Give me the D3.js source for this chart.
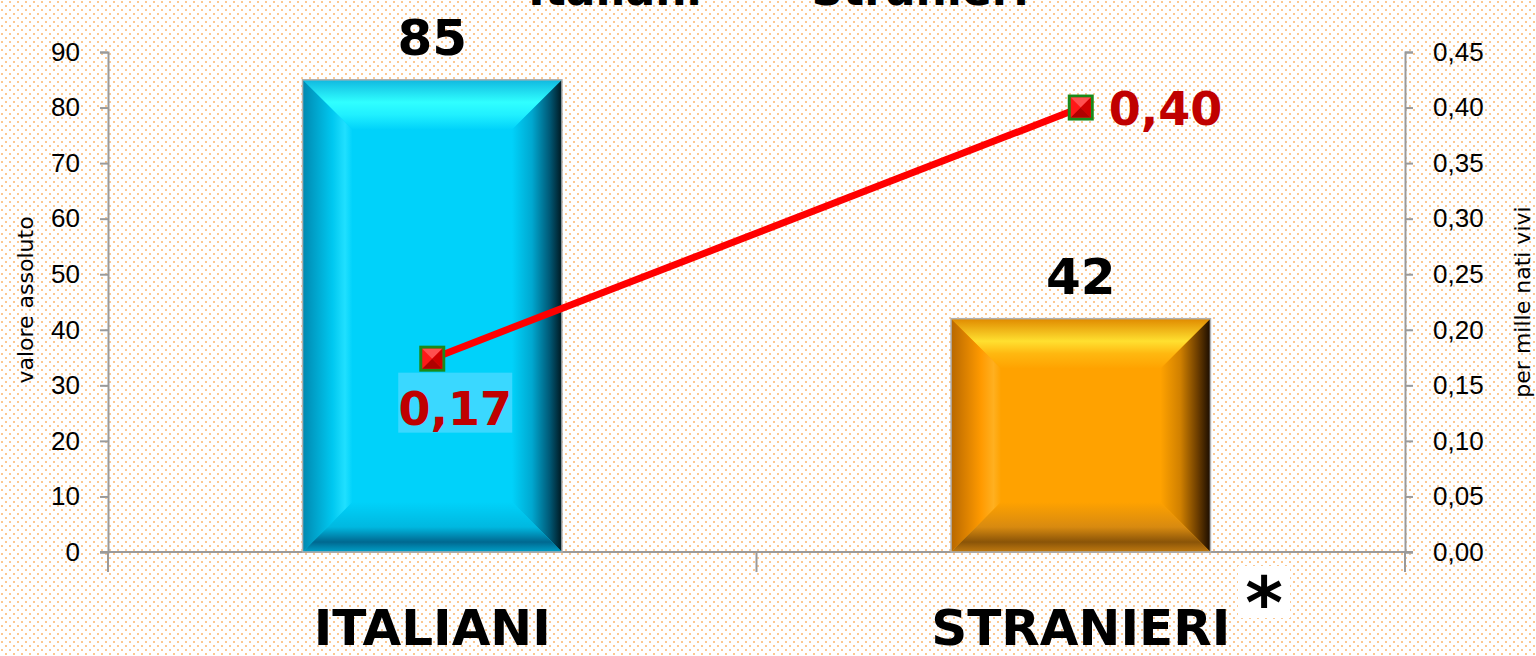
<!DOCTYPE html>
<html><head><meta charset="utf-8">
<script src="https://cdn.jsdelivr.net/npm/d3@7/dist/d3.min.js"></script>
<style>html,body{margin:0;padding:0;overflow:hidden;background:#fff}</style>
</head><body>
<svg id="c" width="1536" height="656"></svg>
<script>
const categories = ["ITALIANI", "STRANIERI"];
const absoluteValues = [85, 42];
const ratePerThousand = [0.174, 0.40];
const leftTicks = [0,10,20,30,40,50,60,70,80,90];
const rightTicks = [0,0.05,0.10,0.15,0.20,0.25,0.30,0.35,0.40,0.45];
const titleWords = ["Italiani", "Stranieri"];
const leftAxisTitle = "valore assoluto";
const rightAxisTitle = "per mille nati vivi";

const svg = d3.select("#c");
const W = 1536, H = 656;
const L = 108, R = 1405, T = 52, B = 552;
const it = d3.formatLocale({decimal: ",", thousands: ".", grouping: [3], currency: ["€",""]});
const f2 = it.format(".2f");

const defs = svg.append("defs");
const pat = defs.append("pattern").attr("id","dots").attr("width",8).attr("height",8).attr("patternUnits","userSpaceOnUse");
pat.append("rect").attr("width",8).attr("height",8).attr("fill","#fff");
pat.append("rect").attr("x",1).attr("y",1).attr("width",2).attr("height",2).attr("fill","#fcc891");
pat.append("rect").attr("x",5).attr("y",5).attr("width",2).attr("height",2).attr("fill","#fcc891");
svg.append("rect").attr("width",W).attr("height",H).attr("fill","url(#dots)");

function grad(id, dir, stops){
  const g = defs.append("linearGradient").attr("id",id);
  if(dir==="v"){g.attr("x1",0).attr("y1",0).attr("x2",0).attr("y2",1);} else {g.attr("x1",0).attr("y1",0).attr("x2",1).attr("y2",0);}
  stops.forEach(s=>g.append("stop").attr("offset",s[0]).attr("stop-color",s[1]));
}
const pal = [
 {c:"#00d2fa", top:[[0,"#10b8e0"],[0.45,"#30ffff"],[0.7,"#20f0ff"],[1,"#00d2fa"]],
  left:[[0,"#0088b0"],[0.6,"#00c8f0"],[0.85,"#20e0ff"],[1,"#00d2fa"]],
  right:[[0,"#00d2fa"],[0.4,"#00a8d0"],[0.75,"#005a78"],[1,"#001820"]],
  bottom:[[0,"#00d2fa"],[0.5,"#00b8e0"],[0.8,"#006890"],[1,"#00a0c8"]]},
 {c:"#ffa200", top:[[0,"#e08a00"],[0.45,"#ffe030"],[0.7,"#ffb810"],[1,"#ffa200"]],
  left:[[0,"#b86800"],[0.6,"#ff9a00"],[0.85,"#ffb020"],[1,"#ffa200"]],
  right:[[0,"#ffa200"],[0.4,"#d08000"],[0.75,"#6a3c00"],[1,"#1a0c00"]],
  bottom:[[0,"#ffa200"],[0.5,"#d88a10"],[0.8,"#8a5408"],[1,"#c07a10"]]}
];
pal.forEach((p,i)=>{
  grad("t"+i,"v",p.top); grad("l"+i,"h",p.left); grad("r"+i,"h",p.right); grad("b"+i,"v",p.bottom);
});

const x = d3.scaleBand().domain(categories).range([L,R]).paddingInner(0.6).paddingOuter(0.3);
const yL = d3.scaleLinear().domain([0,90]).range([B,T]);
const yR = d3.scaleLinear().domain([0,0.45]).range([B,T]);

// axes
const axL = svg.append("g").attr("transform",`translate(${L},0)`)
  .call(d3.axisLeft(yL).tickValues(leftTicks).tickSize(8).tickPadding(20).tickFormat(d3.format("d")));
const axR = svg.append("g").attr("transform",`translate(${R},0)`)
  .call(d3.axisRight(yR).tickValues(rightTicks).tickSize(8).tickPadding(20).tickFormat(f2));
[axL,axR].forEach(a=>{
  a.select(".domain").attr("stroke","#9a9a9a").attr("stroke-width",2);
  a.selectAll(".tick line").attr("stroke","#9a9a9a").attr("stroke-width",2);
  a.selectAll(".tick text").attr("font-family","Liberation Sans, Arial, sans-serif").attr("font-size",26).attr("fill","#000");
});
// x axis baseline + ticks at band boundaries
const step = x.step();
const boundaries = [L].concat(categories.map(c=>x(c)+x.bandwidth()/2+step/2));
svg.append("line").attr("x1",L-8).attr("x2",R+8).attr("y1",yL(0)).attr("y2",yL(0)).attr("stroke","#9a9a9a").attr("stroke-width",2);
svg.selectAll(".xt").data(boundaries).join("line").attr("x1",d=>d).attr("x2",d=>d).attr("y1",yL(0)).attr("y2",yL(0)+20)
  .attr("stroke","#9a9a9a").attr("stroke-width",2);

// bars
categories.forEach((c,i)=>{
  const x0 = x(c), w = x.bandwidth(), y0 = yL(absoluteValues[i]), y1 = yL(0);
  const bx = 50, by = 50;
  const g = svg.append("g");
  g.append("rect").attr("x",x0).attr("y",y0).attr("width",w).attr("height",y1-y0).attr("fill",pal[i].c);
  const P = (pts)=>pts.map(p=>p.join(",")).join(" ");
  g.append("polygon").attr("points",P([[x0,y0],[x0+w,y0],[x0+w-bx,y0+by],[x0+bx,y0+by]])).attr("fill",`url(#t${i})`);
  g.append("polygon").attr("points",P([[x0,y0],[x0+bx,y0+by],[x0+bx,y1-by],[x0,y1]])).attr("fill",`url(#l${i})`);
  g.append("polygon").attr("points",P([[x0+w,y0],[x0+w,y1],[x0+w-bx,y1-by],[x0+w-bx,y0+by]])).attr("fill",`url(#r${i})`);
  g.append("polygon").attr("points",P([[x0,y1],[x0+bx,y1-by],[x0+w-bx,y1-by],[x0+w,y1]])).attr("fill",`url(#b${i})`);
  g.append("rect").attr("x",x0).attr("y",y0).attr("width",w).attr("height",y1-y0).attr("fill","none").attr("stroke","#b0b0b0").attr("stroke-width",1.5);
  svg.append("text").attr("x",x0+w/2).attr("y",y0-25).attr("text-anchor","middle")
    .attr("font-family","DejaVu Sans, sans-serif").attr("font-weight","bold").attr("font-size",50).attr("fill","#000")
    .text(absoluteValues[i]);
});

// line
const cx = c=>x(c)+x.bandwidth()/2;
const pts = categories.map((c,i)=>[cx(c), yR(ratePerThousand[i])]);
svg.append("path").attr("d",d3.line()(pts)).attr("stroke","#ff0000").attr("stroke-width",7).attr("fill","none");

// labels
const p0 = pts[0], p1 = pts[1];
svg.append("rect").attr("x",p0[0]-34).attr("y",p0[1]+14).attr("width",114).attr("height",60).attr("fill","#40d8ff").attr("opacity",0.9);
svg.append("text").attr("x",p0[0]+23).attr("y",p0[1]+66).attr("text-anchor","middle")
  .attr("font-family","DejaVu Sans, sans-serif").attr("font-weight","bold").attr("font-size",46).attr("fill","#c00000")
  .text(f2(ratePerThousand[0]));
svg.append("text").attr("x",p1[0]+28).attr("y",p1[1]+17).attr("text-anchor","start")
  .attr("font-family","DejaVu Sans, sans-serif").attr("font-weight","bold").attr("font-size",46).attr("fill","#c00000")
  .text(f2(ratePerThousand[1]));

// markers
pts.forEach(p=>{
  const s = 26, h = s/2;
  const g = svg.append("g").attr("transform",`translate(${p[0]},${p[1]})`);
  g.append("rect").attr("x",-h).attr("y",-h).attr("width",s).attr("height",s).attr("fill","#1a8a1a");
  const a = h-3;
  g.append("rect").attr("x",-a).attr("y",-a).attr("width",2*a).attr("height",2*a).attr("fill","#ff1818");
  g.append("polygon").attr("points",`${-a},${-a} ${a},${-a} 0,0`).attr("fill","#ff5050");
  g.append("polygon").attr("points",`${-a},${a} ${a},${a} 0,0`).attr("fill","#b00000");
  g.append("polygon").attr("points",`${a},${-a} ${a},${a} 0,0`).attr("fill","#d00000");
});

// category labels
svg.selectAll(".cl").data(categories).join("text")
  .attr("x",d=>cx(d)).attr("y",645).attr("text-anchor","middle")
  .attr("font-family","DejaVu Sans, sans-serif").attr("font-weight","bold").attr("font-size",50).attr("fill","#000")
  .text(d=>d);
// asterisk
svg.append("rect").attr("x",1238).attr("y",566).attr("width",52).attr("height",52).attr("fill","#fff");
svg.append("text").attr("x",1264).attr("y",628).attr("text-anchor","middle")
  .attr("font-family","DejaVu Sans, sans-serif").attr("font-weight","bold").attr("font-size",72).attr("fill","#000").text("*");

// axis titles
svg.append("text").attr("transform",`translate(33,300) rotate(-90)`).attr("text-anchor","middle")
  .attr("font-family","DejaVu Sans, sans-serif").attr("font-size",22).attr("fill","#000").text(leftAxisTitle);
svg.append("text").attr("transform",`translate(1530,302) rotate(-90)`).attr("text-anchor","middle")
  .attr("font-family","DejaVu Sans, sans-serif").attr("font-size",22).attr("fill","#000").text(rightAxisTitle);

// cut-off title
svg.append("text").attr("x",615).attr("y",5).attr("text-anchor","middle")
  .attr("font-family","DejaVu Sans, sans-serif").attr("font-weight","bold").attr("font-size",44).attr("fill","#000").text(titleWords[0]);
svg.append("text").attr("x",920).attr("y",5).attr("text-anchor","middle")
  .attr("font-family","DejaVu Sans, sans-serif").attr("font-weight","bold").attr("font-size",44).attr("fill","#000").text(titleWords[1]);
</script>
</body></html>
